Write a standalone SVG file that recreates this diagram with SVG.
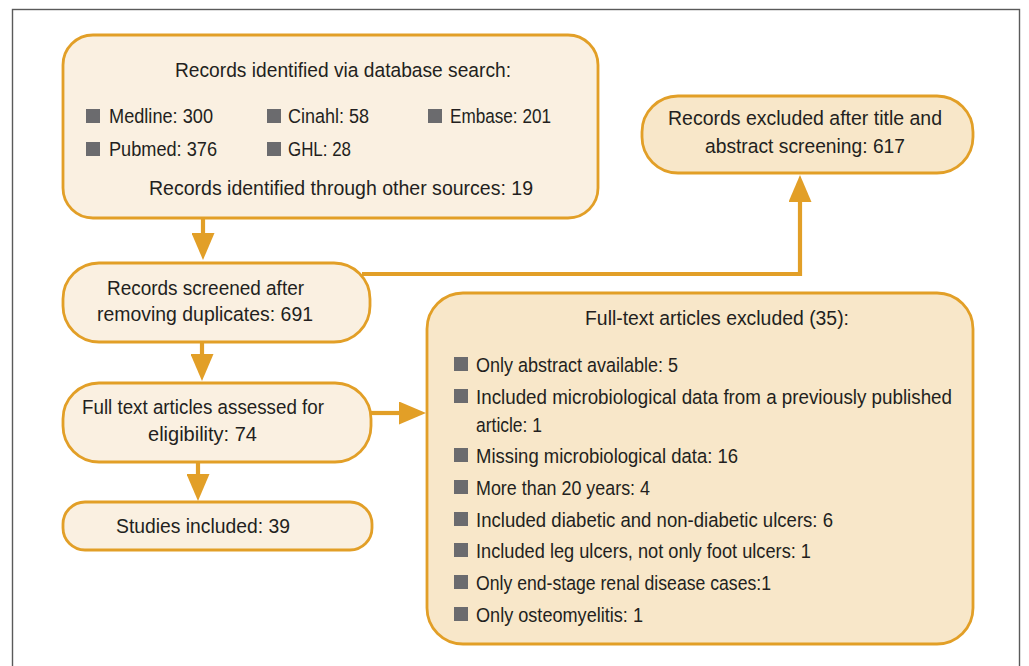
<svg xmlns="http://www.w3.org/2000/svg" width="1029" height="666" viewBox="0 0 1029 666">
  <defs>
    <style>
      .frame { fill: none; stroke: #5a5a5a; stroke-width: 1.4; }
      .box { stroke: #e29f27; stroke-width: 2.8; }
      .cream { fill: #faf0e1; }
      .tan { fill: #f8e7c9; }
      .lbl { font-family: "Liberation Sans", Arial, sans-serif; font-size: 20.5px; fill: #231f20; }
      .sq { fill: #6b6b6e; }
      .conn { fill: none; stroke: #e29f27; stroke-width: 4.2; stroke-linejoin: miter; }
    </style>
    <marker id="head" markerUnits="userSpaceOnUse" markerWidth="28" markerHeight="23" viewBox="0 0 27 23" refX="3" refY="11.5" orient="auto">
      <path d="M0,0 L27,11.5 L0,23 Z" fill="#e29f27"/>
    </marker>
  </defs>

  <rect width="1029" height="666" fill="#ffffff"/>
  <rect class="frame" x="12.5" y="9.5" width="1007" height="720"/>

  <!-- connectors -->
  <g id="connectors">
    <path class="conn" d="M203,218 V236" marker-end="url(#head)"/>
    <path class="conn" d="M362,274 H800 V199" marker-end="url(#head)"/>
    <path class="conn" d="M202,342 V357" marker-end="url(#head)"/>
    <path class="conn" d="M198,462 V477" marker-end="url(#head)"/>
    <path class="conn" d="M371,413 H402" marker-end="url(#head)"/>
  </g>

  <!-- identification -->
  <g id="identified">
    <rect class="box cream" x="63" y="35" width="535" height="183" rx="30" ry="30"/>
    <text class="lbl" x="175" y="77" textLength="336" lengthAdjust="spacingAndGlyphs">Records identified via database search:</text>
    <rect class="sq" x="86" y="109" width="14" height="14"/>
    <text class="lbl" x="109" y="123" textLength="104" lengthAdjust="spacingAndGlyphs">Medline: 300</text>
    <rect class="sq" x="267" y="109" width="14" height="14"/>
    <text class="lbl" x="288" y="123" textLength="81" lengthAdjust="spacingAndGlyphs">Cinahl: 58</text>
    <rect class="sq" x="428" y="109" width="14" height="14"/>
    <text class="lbl" x="450" y="123" textLength="101" lengthAdjust="spacingAndGlyphs">Embase: 201</text>
    <rect class="sq" x="86" y="142" width="14" height="14"/>
    <text class="lbl" x="109" y="156" textLength="108" lengthAdjust="spacingAndGlyphs">Pubmed: 376</text>
    <rect class="sq" x="267" y="142" width="14" height="14"/>
    <text class="lbl" x="288" y="156" textLength="63" lengthAdjust="spacingAndGlyphs">GHL: 28</text>
    <text class="lbl" x="149" y="195" textLength="384" lengthAdjust="spacingAndGlyphs">Records identified through other sources: 19</text>
  </g>

  <!-- screening -->
  <g id="screened">
    <rect class="box cream" x="63" y="263" width="307" height="79" rx="36" ry="36"/>
    <text class="lbl" x="107" y="295" textLength="197" lengthAdjust="spacingAndGlyphs">Records screened after</text>
    <text class="lbl" x="97" y="321" textLength="216" lengthAdjust="spacingAndGlyphs">removing duplicates: 691</text>
  </g>

  <g id="excluded-screening">
    <rect class="box tan" x="642" y="96" width="331" height="77" rx="36" ry="36"/>
    <text class="lbl" x="668" y="125" textLength="274" lengthAdjust="spacingAndGlyphs">Records excluded after title and</text>
    <text class="lbl" x="705" y="153" textLength="200" lengthAdjust="spacingAndGlyphs">abstract screening: 617</text>
  </g>

  <!-- eligibility -->
  <g id="assessed">
    <rect class="box cream" x="63" y="383" width="308" height="79" rx="36" ry="36"/>
    <text class="lbl" x="82" y="414" textLength="242" lengthAdjust="spacingAndGlyphs">Full text articles assessed for</text>
    <text class="lbl" x="148" y="441" textLength="109" lengthAdjust="spacingAndGlyphs">eligibility: 74</text>
  </g>

  <g id="included">
    <rect class="box cream" x="63" y="502" width="309" height="48" rx="22" ry="22"/>
    <text class="lbl" x="116" y="533" textLength="174" lengthAdjust="spacingAndGlyphs">Studies included: 39</text>
  </g>

  <g id="excluded-fulltext">
    <rect class="box tan" x="427" y="293" width="546" height="351" rx="36" ry="36"/>
    <text class="lbl" x="585" y="325" textLength="264" lengthAdjust="spacingAndGlyphs">Full-text articles excluded (35):</text>
    <rect class="sq" x="454" y="357" width="14" height="14"/>
    <text class="lbl" x="476" y="372" textLength="202" lengthAdjust="spacingAndGlyphs">Only abstract available: 5</text>
    <rect class="sq" x="454" y="389" width="14" height="14"/>
    <text class="lbl" x="476" y="404" textLength="476" lengthAdjust="spacingAndGlyphs">Included microbiological data from a previously published</text>
    <text class="lbl" x="476" y="432" textLength="66" lengthAdjust="spacingAndGlyphs">article: 1</text>
    <rect class="sq" x="454" y="448" width="14" height="14"/>
    <text class="lbl" x="476" y="463" textLength="262" lengthAdjust="spacingAndGlyphs">Missing microbiological data: 16</text>
    <rect class="sq" x="454" y="480" width="14" height="14"/>
    <text class="lbl" x="476" y="495" textLength="174" lengthAdjust="spacingAndGlyphs">More than 20 years: 4</text>
    <rect class="sq" x="454" y="512" width="14" height="14"/>
    <text class="lbl" x="476" y="527" textLength="357" lengthAdjust="spacingAndGlyphs">Included diabetic and non-diabetic ulcers: 6</text>
    <rect class="sq" x="454" y="543" width="14" height="14"/>
    <text class="lbl" x="476" y="558" textLength="335" lengthAdjust="spacingAndGlyphs">Included leg ulcers, not only foot ulcers: 1</text>
    <rect class="sq" x="454" y="575" width="14" height="14"/>
    <text class="lbl" x="476" y="590" textLength="295" lengthAdjust="spacingAndGlyphs">Only end-stage renal disease cases:1</text>
    <rect class="sq" x="454" y="607" width="14" height="14"/>
    <text class="lbl" x="476" y="622" textLength="167" lengthAdjust="spacingAndGlyphs">Only osteomyelitis: 1</text>
  </g>
</svg>
